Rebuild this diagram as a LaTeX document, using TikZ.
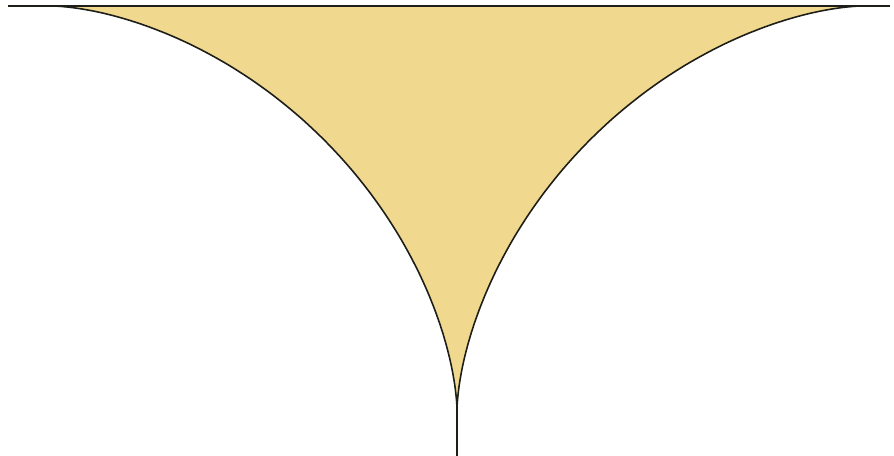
\documentclass[tikz,border=0pt]{standalone}
\usepackage{tikz}
\definecolor{sailfill}{RGB}{240,216,142}
\definecolor{sailline}{RGB}{30,30,25}
\begin{document}
\begin{tikzpicture}[x=0.02cm, y=-0.02cm,
    outline/.style={draw=sailline, line width=0.9pt},
    stem/.style={draw=sailline, line width=1.1pt},
    arcplot/.style={smooth, samples=120, variable=\t}
  ]
  \useasboundingbox (0,0) rectangle (894,456);

  % ===== key points =====
  \coordinate (topL) at (8,6);
  \coordinate (topR) at (890,6);
  \coordinate (cusp) at (457,410);
  \coordinate (foot) at (457,456);

  % ===== filled region between the two arcs =====
  \fill[sailfill]
    plot[arcplot, domain=0:90]
      ({457-405*pow(max(cos(\t),0.0001),3.2)}, {6+404*pow(max(sin(\t),0.0001),3.2)})
    -- plot[arcplot, domain=90:0]
      ({457+405*pow(max(cos(\t),0.0001),3.2)}, {6+404*pow(max(sin(\t),0.0001),3.2)})
    -- cycle;

  % ===== arcs =====
  \draw[outline] plot[arcplot, domain=0:90]
    ({457-405*pow(max(cos(\t),0.0001),3.2)}, {6+404*pow(max(sin(\t),0.0001),3.2)});
  \draw[outline] plot[arcplot, domain=0:90]
    ({457+405*pow(max(cos(\t),0.0001),3.2)}, {6+404*pow(max(sin(\t),0.0001),3.2)});

  % ===== top line and stem =====
  \draw[stem] (topL) -- (topR);
  \draw[stem] (cusp) -- (foot);
\end{tikzpicture}
\end{document}
